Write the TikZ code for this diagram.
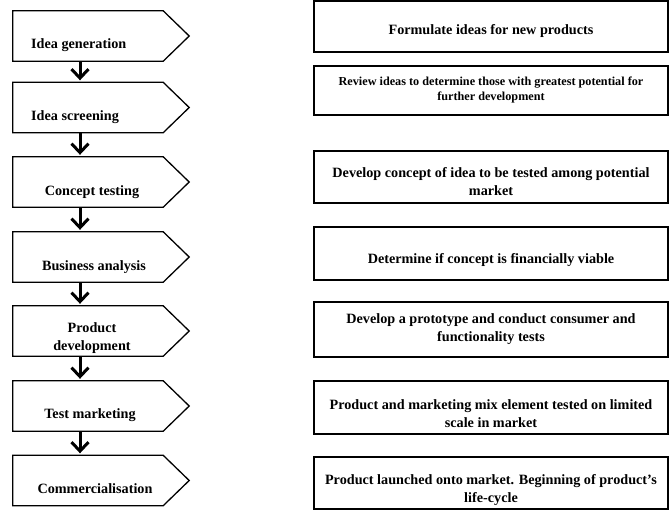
\documentclass[tikz,border=0pt]{standalone}
\usepackage{fontspec}
\setmainfont{Liberation Serif}
\usetikzlibrary{arrows.meta,calc}
\begin{document}
\begin{tikzpicture}[x=1pt,y=-1pt,
  stagebox/.style={draw=none,minimum width=150pt,minimum height=50pt,inner sep=0pt},
  stageline/.style={line width=1.3pt,line join=miter},
  descbox/.style={draw,line width=2pt,minimum width=354pt,inner sep=0pt},
  lbl/.style={inner sep=0pt,align=center,font=\bfseries\fontsize{14.2}{18}\selectfont},
  smalllbl/.style={inner sep=0pt,align=center,font=\bfseries\fontsize{12.2}{15}\selectfont},
  flow/.style={line width=3pt,-{Straight Barb[length=9pt,width=17pt]},shorten >=2pt}
]
\useasboundingbox (0,0) rectangle (670,512);
% left stage shapes
\foreach \n/\y in {1/36,2/107.5,3/182,4/257,5/331,6/406,7/480.5}{
  \node[stagebox] (b\n) at (88,\y) {};
  \draw[stageline] (b\n.north west) -- (b\n.north east) -- ($(b\n.east)+(26,0)$) -- (b\n.south east) -- (b\n.south west) -- cycle;
}
% stage labels
\node[lbl,anchor=west] (t1) at (31,45) {Idea generation};
\node[lbl,anchor=west] (t2) at (31,117) {Idea screening};
\node[lbl] (t3) at (92,192) {Concept testing};
\node[lbl] (t4) at (94,267) {Business analysis};
\node[lbl] (t5) at (92,338.5) {Product\\development};
\node[lbl] (t6) at (90,415) {Test marketing};
\node[lbl] (t7) at (95,489) {Commercialisation};
% arrows
\foreach \a/\b in {1/2,2/3,3/4,4/5,5/6,6/7}{
  \draw[flow] ([xshift=-8pt]b\a.south) -- ([xshift=-8pt]b\b.north);
}
% description boxes
\node[descbox,minimum height=51pt] (d1) at (491,26.5) {};
\node[descbox,minimum height=49pt] (d2) at (491,90.5) {};
\node[descbox,minimum height=52pt] (d3) at (491,177) {};
\node[descbox,minimum height=53pt] (d4) at (491,253.5) {};
\node[descbox,minimum height=55pt] (d5) at (491,329.5) {};
\node[descbox,minimum height=53pt] (d6) at (491,407.5) {};
\node[descbox,minimum height=52pt] (d7) at (491,483) {};
% description texts
\node[lbl] (r1) at (491,31) {Formulate ideas for new products};
\node[smalllbl] (r2) at (491,89.5) {Review ideas to determine those with greatest potential for\\further development};
\node[lbl] (r3) at (491,182) {Develop concept of idea to be tested among potential\\market};
\node[lbl] (r4) at (491,260) {Determine if concept is financially viable};
\node[lbl] (r5) at (491,329) {Develop a prototype and conduct consumer and\\functionality tests};
\node[lbl] (r6) at (491,414) {Product and marketing mix element tested on limited\\scale in market};
\node[lbl] (r7) at (491,490) {Product launched onto market. Beginning of product’s\\life-cycle};
\end{tikzpicture}
\end{document}
